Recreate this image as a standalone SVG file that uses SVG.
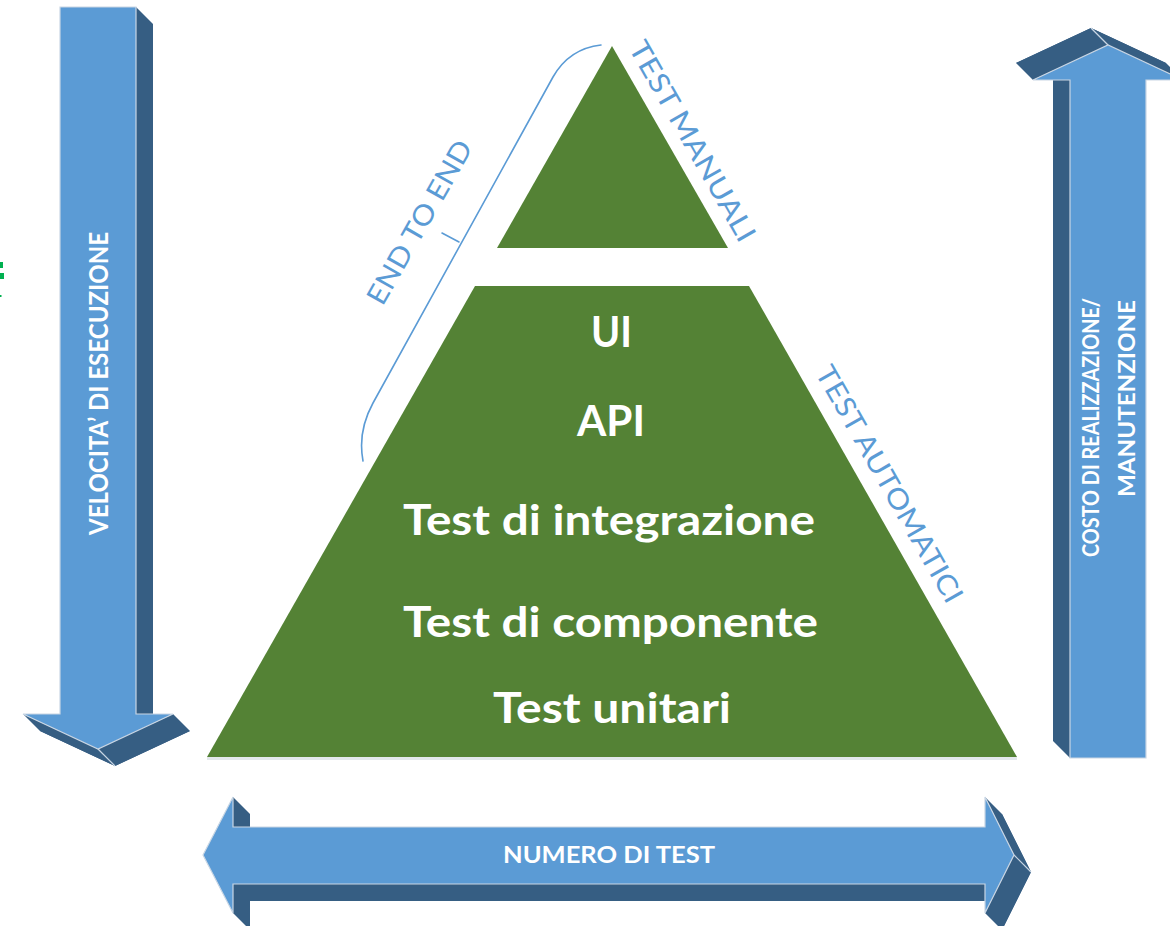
<svg xmlns="http://www.w3.org/2000/svg" width="1170" height="926" viewBox="0 0 1170 926">
<style>
.lt{fill:#5B9BD5;stroke:#C9D6E4;stroke-width:1.2;stroke-linejoin:miter}
.dk{fill:#365E83}
.ridge{stroke:#C9D6E4;stroke-width:1.2;fill:none}
.green{fill:#548235}
.big{font-family:Lato,"Open Sans","Liberation Sans",sans-serif;font-weight:700;font-size:42px;fill:#FFFFFF;text-anchor:middle}
.arr{font-family:Lato,"Open Sans","Liberation Sans",sans-serif;font-weight:700;fill:#FFFFFF;text-anchor:middle}
.lbl{font-family:Lato,"Open Sans","Liberation Sans",sans-serif;font-weight:400;font-size:28px;fill:#5B9BD5;text-anchor:middle}
.brace{fill:none;stroke:#5B9BD5;stroke-width:1.6;stroke-linecap:round}
</style>
<rect width="1170" height="926" fill="#FFFFFF"/>

<g id="artifact">
<path d="M0,262 L3,262 L3,268 L0,268 Z M0,273 L4,273 L4,279 L0,279 Z M0,295 L1.5,295 L1.5,297 L0,297 Z" fill="#00B050"/>
</g>

<g id="arrow-velocita">
<g class="dk">
<polygon points="77,24 153,24 153,731 190,731 115,766 40,731 77,731"/>
<polygon points="136,7 153,24 153,731 136,714"/>
<polygon points="173,714 190,731 115,766 98,749"/>
<polygon points="98,749 115,766 40,731 23,714"/>
</g>
<polygon class="lt" points="60,7 136,7 136,714 173,714 98,749 23,714 60,714"/>
<line class="ridge" x1="98" y1="749" x2="115" y2="766"/>
<text class="arr" font-size="27" transform="translate(108,383.5) rotate(-90)" textLength="303" lengthAdjust="spacingAndGlyphs">VELOCITA’ DI ESECUZIONE</text>
</g>

<g id="arrow-costo">
<g class="dk">
<polygon points="1053,741 1129,741 1129,63 1166,63 1091,28 1016,63 1053,63"/>
<polygon points="1070,758 1070,80 1053,63 1053,741"/>
<polygon points="1033,80 1108,45 1091,28 1016,63"/>
<polygon points="1108,45 1183,80 1166,63 1091,28"/>
</g>
<polygon class="lt" points="1070,758 1146,758 1146,80 1183,80 1108,45 1033,80 1070,80"/>
<line class="ridge" x1="1108" y1="45" x2="1091" y2="28"/>
<text class="arr" font-size="23" transform="translate(1099,427.5) rotate(-90)" textLength="259" lengthAdjust="spacingAndGlyphs">COSTO DI REALIZZAZIONE/</text>
<text class="arr" font-size="23" transform="translate(1135,398.5) rotate(-90)" textLength="197" lengthAdjust="spacingAndGlyphs">MANUTENZIONE</text>
</g>

<g id="arrow-numero">
<g class="dk">
<polygon points="220,872 250,814 250,844 1002,844 1002,814 1031,872 1002,930 1002,901 250,901 250,930"/>
<polygon points="985,797 1002,814 1031,872 1014,855"/>
<polygon points="1014,855 1031,872 1002,930 985,913"/>
<polygon points="233,797 250,814 250,844 233,827"/>
<polygon points="233,884 250,901 250,930 233,913"/>
<polygon points="233,884 985,884 1002,901 250,901"/>
</g>
<polygon class="lt" points="203,855 233,797 233,827 985,827 985,797 1014,855 985,913 985,884 233,884 233,913"/>
<line class="ridge" x1="1014" y1="855" x2="1031" y2="872"/>
<text class="arr" font-size="23" x="609" y="863" textLength="212" lengthAdjust="spacingAndGlyphs">NUMERO DI TEST</text>
</g>

<g id="pyramid-top">
<polygon class="green" points="612,46 728,248 497,248"/>
</g>

<g id="pyramid-bottom">
<rect x="207" y="757" width="810" height="3" fill="#E3E8EC"/>
<polygon class="green" points="475,286 749,286 1017,757 207,757"/>
<text class="big" x="611.5" y="347" textLength="41" lengthAdjust="spacingAndGlyphs">UI</text>
<text class="big" x="611" y="436" textLength="68" lengthAdjust="spacingAndGlyphs">API</text>
<text class="big" x="609" y="535" textLength="412" lengthAdjust="spacingAndGlyphs">Test di integrazione</text>
<text class="big" x="610.5" y="637" textLength="415" lengthAdjust="spacingAndGlyphs">Test di componente</text>
<text class="big" x="612" y="723" textLength="238" lengthAdjust="spacingAndGlyphs">Test unitari</text>
</g>

<g id="label-manuali">
<text class="lbl" transform="translate(684,146) rotate(60.3)" textLength="226" lengthAdjust="spacingAndGlyphs">TEST MANUALI</text>
</g>

<g id="label-automatici">
<text class="lbl" transform="translate(881,489) rotate(60.3)" textLength="268" lengthAdjust="spacingAndGlyphs">TEST AUTOMATICI</text>
</g>

<g id="label-end-to-end">
<text class="lbl" transform="translate(428,227) rotate(-60.3)" textLength="184" lengthAdjust="spacingAndGlyphs">END TO END</text>
</g>

<g id="connectors">
<path class="brace" d="M363,461 C360,445 361,425 373,403 L553,77 C565,56 583,47 601,45"/>
<path class="brace" d="M459,242 L442,233"/>
</g>
</svg>
